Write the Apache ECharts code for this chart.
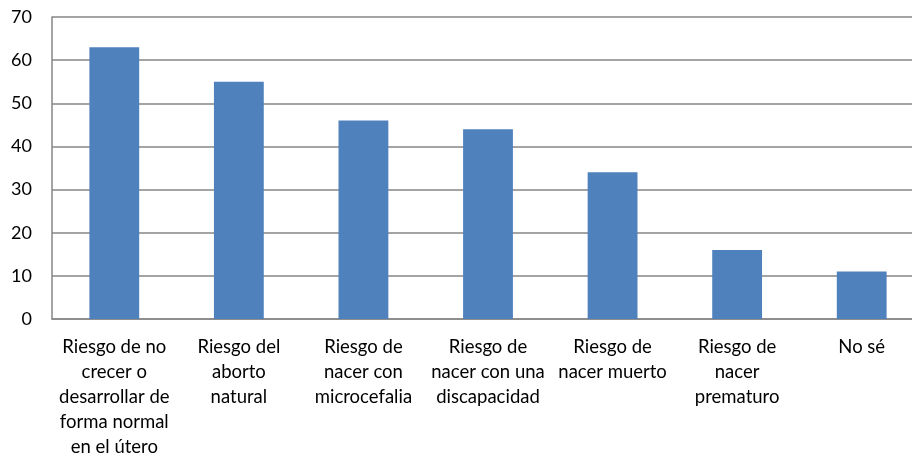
<!DOCTYPE html>
<html>
<head>
<meta charset="utf-8">
<script src="https://cdn.jsdelivr.net/npm/echarts@6/dist/echarts.min.js"></script>
<style>html,body{margin:0;padding:0;background:#fff}#c{width:912px;height:459px}</style>
</head>
<body>
<div id="c"></div>
<script>
var categories = [
  "Riesgo de no\ncrecer o\ndesarrollar de\nforma normal\nen el útero",
  "Riesgo del\naborto\nnatural",
  "Riesgo de\nnacer con\nmicrocefalia",
  "Riesgo de\nnacer con una\ndiscapacidad",
  "Riesgo de\nnacer muerto",
  "Riesgo de\nnacer\nprematuro",
  "No sé"
];
var values = [63, 55, 46, 44, 34, 16, 11];
var yTicks = {min: 0, max: 70, interval: 10};

var chart = echarts.init(document.getElementById('c'), null, {renderer: 'canvas'});
chart.setOption({
  animation: false,
  grid: {left: 52, width: 872, top: 17, height: 302, containLabel: false, outerBoundsMode: 'none'},
  xAxis: {
    type: 'category',
    data: categories,
    axisLine: {show: true, lineStyle: {color: '#868686', width: 1.5}},
    axisTick: {show: false},
    axisLabel: {
      interval: 0, color: '#000', fontFamily: 'Lato', fontSize: 18.5,
      lineHeight: 25, margin: 16
    }
  },
  yAxis: {
    type: 'value',
    min: yTicks.min, max: yTicks.max, interval: yTicks.interval,
    axisLine: {show: true, lineStyle: {color: '#868686', width: 1.5}},
    axisTick: {show: false},
    splitLine: {show: true, lineStyle: {color: '#868686', width: 1.5}},
    axisLabel: {color: '#000', fontFamily: 'Lato', fontSize: 18, margin: 20}
  },
  series: [{
    type: 'bar',
    data: values,
    barWidth: '40%',
    itemStyle: {color: '#4F81BD'}
  }]
});
</script>
</body>
</html>
